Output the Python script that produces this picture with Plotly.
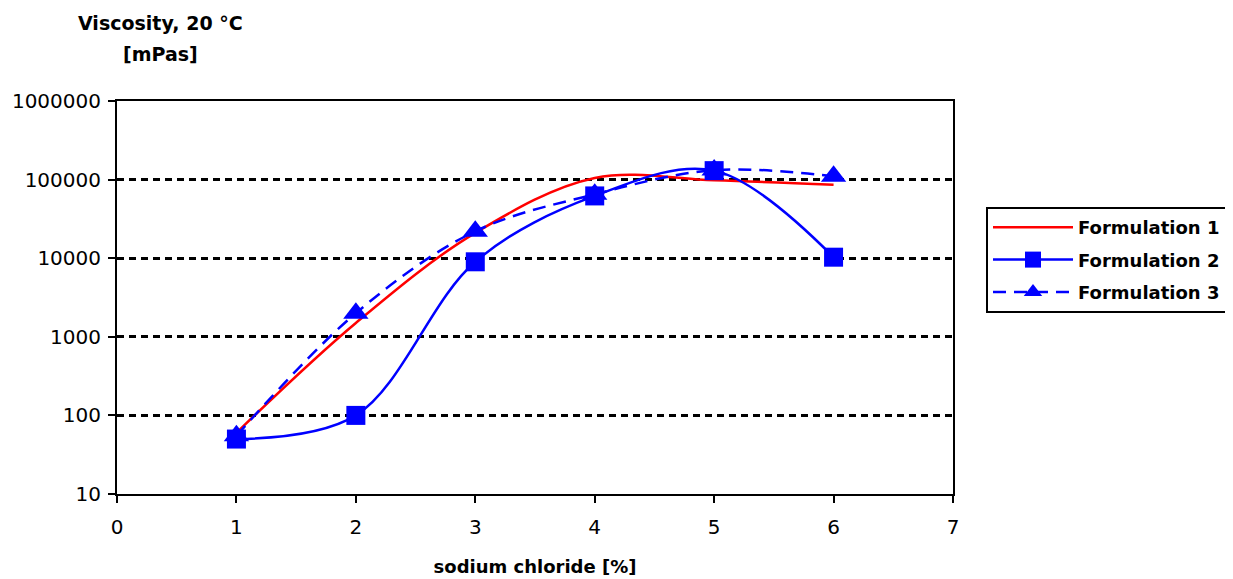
import plotly.graph_objects as go

nacl = [1, 2, 3, 4, 5, 6]
formulation_1 = [60, 1500, 21000, 105000, 98000, 86000]
formulation_2 = [50, 100, 9000, 62000, 130000, 10300]
formulation_3 = [55, 2000, 22000, 65000, 132000, 110000]
y_ticks = [10, 100, 1000, 10000, 100000, 1000000]
x_ticks = [0, 1, 2, 3, 4, 5, 6, 7]

FONT = "DejaVu Sans"
L, T, PW, PH = 109, 93, 836, 393
W, H = 1233, 579

fig = go.Figure()
fig.add_trace(go.Scatter(
    x=nacl, y=formulation_1, name="Formulation 1", mode="lines", legendgroup="a",
    line=dict(color="#ff0000", width=2.5, shape="spline", smoothing=1.0),
))
fig.add_trace(go.Scatter(
    x=nacl, y=formulation_2, name="Formulation 2", mode="lines+markers", legendgroup="b",
    line=dict(color="#0000ff", width=2.5, shape="spline", smoothing=1.0),
    marker=dict(symbol="square", size=19, color="#0000ff"),
))
fig.add_trace(go.Scatter(
    x=nacl, y=formulation_3, name="Formulation 3", mode="lines+markers", legendgroup="c",
    line=dict(color="#0000ff", width=2.5, shape="spline", smoothing=1.0, dash="13px,8px"),
    marker=dict(symbol="triangle-up", size=22, color="#0000ff"),
))

fig.update_layout(
    width=W, height=H,
    margin=dict(l=L, r=W - L - PW, t=T, b=H - T - PH, autoexpand=False),
    paper_bgcolor="white", plot_bgcolor="white",
    font=dict(family=FONT, color="black"),
    showlegend=True,
    legend=dict(
        x=(978 - L) / PW, y=1 - (199 - T) / PH, xanchor="left", yanchor="top",
        bordercolor="black", borderwidth=2,
        font=dict(family=FONT, size=18, color="black", weight="bold"),
        itemwidth=80, tracegroupgap=6,
    ),
    xaxis=dict(
        range=[0, 7], tickvals=x_ticks, ticktext=[str(v) for v in x_ticks],
        showgrid=False, zeroline=False, automargin=False,
        showline=True, linecolor="black", linewidth=2, mirror=True,
        ticks="outside", ticklen=7, tickwidth=2, tickcolor="black",
        tickfont=dict(family=FONT, size=20),
        ticklabelstandoff=7,
        title=dict(text="<b>sodium chloride [%]</b>", font=dict(family=FONT, size=18), standoff=22),
    ),
    yaxis=dict(
        type="log", range=[1, 6], tickvals=y_ticks, ticktext=[str(v) for v in y_ticks],
        showgrid=True, gridcolor="black", gridwidth=2.5, griddash="7px,5px",
        zeroline=False, automargin=False,
        showline=True, linecolor="black", linewidth=2, mirror=True,
        ticks="outside", ticklen=7, tickwidth=2, tickcolor="black",
        tickfont=dict(family=FONT, size=20),
        ticklabelstandoff=3,
    ),
    annotations=[
        dict(text="<b>Viscosity, 20 °C</b>", xref="paper", yref="paper",
             x=(152 - L) / PW, y=1 + (T - 2) / PH, xanchor="center", yanchor="top",
             showarrow=False, font=dict(family=FONT, size=19, color="black")),
        dict(text="<b>[mPas]</b>", xref="paper", yref="paper",
             x=(152 - L) / PW, y=1 + (T - 33) / PH, xanchor="center", yanchor="top",
             showarrow=False, font=dict(family=FONT, size=19, color="black")),
    ],
)

fig.write_html("out.html")
